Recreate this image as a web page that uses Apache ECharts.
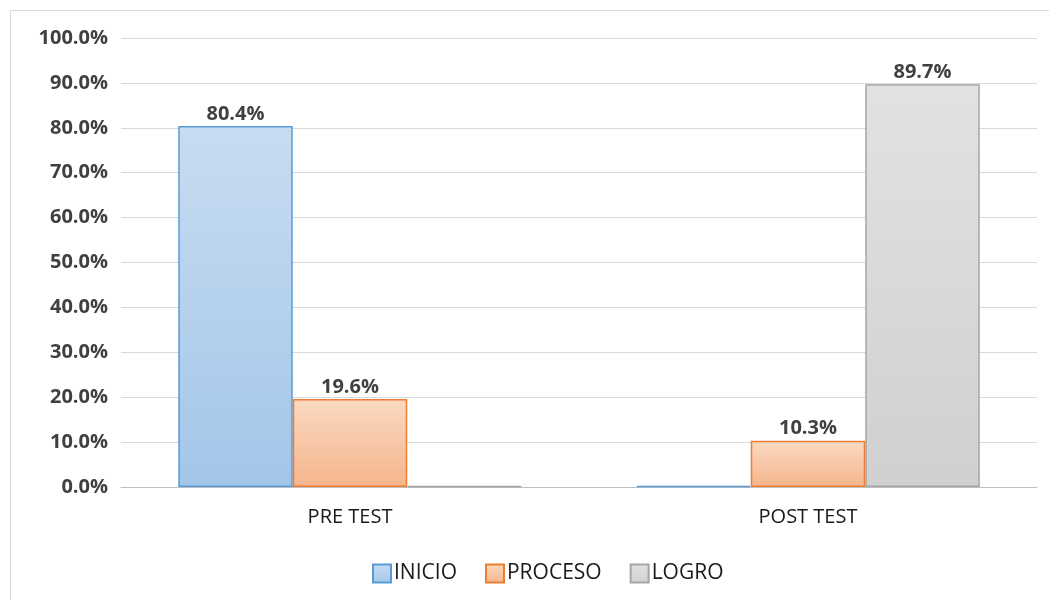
<!DOCTYPE html>
<html>
<head>
<meta charset="utf-8">
<script src="https://cdn.jsdelivr.net/npm/echarts@6/dist/echarts.min.js"></script>
<style>
  html, body { margin: 0; padding: 0; background: #fff; }
  #chart { width: 1049px; height: 600px; }
</style>
</head>
<body>
<div id="chart"></div>
<script>
const categories = ['PRE TEST', 'POST TEST'];
const inicio = [80.4, 0];
const proceso = [19.6, 10.3];
const logro = [0, 89.7];

const font = 'Open Sans, Liberation Sans, sans-serif';

const grad = (top, bottom) =>
  new echarts.graphic.LinearGradient(0, 0, 0, 1, [
    { offset: 0, color: top },
    { offset: 1, color: bottom },
  ]);

const label = {
  show: true,
  position: 'top',
  distance: 2,
  color: '#404040',
  fontFamily: font,
  fontWeight: 'bold',
  fontSize: 20,
  formatter: (p) => (p.value ? p.value.toFixed(1) + '%' : ''),
};

const makeSeries = (name, data, top, bottom, border) => ({
  name,
  type: 'bar',
  data,
  barGap: '0%',
  barCategoryGap: '25%',
  barMinHeight: 1,
  itemStyle: { color: grad(top, bottom), borderColor: border, borderWidth: 1.5 },
  label,
  emphasis: { disabled: true },
});

const chart = echarts.init(document.getElementById('chart'));
chart.setOption({
  animation: false,
  graphic: [
    {
      type: 'rect',
      shape: { x: 10.5, y: 10.5, width: 1060, height: 620 },
      style: { fill: 'none', stroke: '#d9d9d9', lineWidth: 1 },
      silent: true,
    },
  ],
  grid: { left: 121, right: 12, top: 38, bottom: 113 },
  legend: {
    bottom: 11,
    left: 367,
    itemWidth: 18,
    itemHeight: 18,
    itemGap: 28,
    icon: 'rect',
    textStyle: { fontFamily: font, fontSize: 21, color: '#1a1a1a', padding: [0, 0, 0, -2] },
    data: ['INICIO', 'PROCESO', 'LOGRO'],
  },
  xAxis: {
    type: 'category',
    data: categories,
    axisTick: { show: false },
    axisLine: { lineStyle: { color: '#bfbfbf', width: 1 } },
    axisLabel: { color: '#1a1a1a', fontFamily: font, fontSize: 20, margin: 20 },
  },
  yAxis: {
    type: 'value',
    min: 0,
    max: 100,
    interval: 10,
    axisLabel: {
      color: '#404040',
      fontFamily: font,
      fontWeight: 'bold',
      fontSize: 20,
      margin: 13,
      formatter: (v) => v.toFixed(1) + '%',
    },
    splitLine: { lineStyle: { color: '#d9d9d9', width: 1 } },
    axisLine: { show: false },
    axisTick: { show: false },
  },
  series: [
    makeSeries('INICIO', inicio, '#c8dcf1', '#a3c6e9', '#5b9bd5'),
    makeSeries('PROCESO', proceso, '#fad9c2', '#f5b58c', '#ed7d31'),
    makeSeries('LOGRO', logro, '#e2e2e2', '#d0d0d0', '#a5a5a5'),
  ],
});
</script>
</body>
</html>
